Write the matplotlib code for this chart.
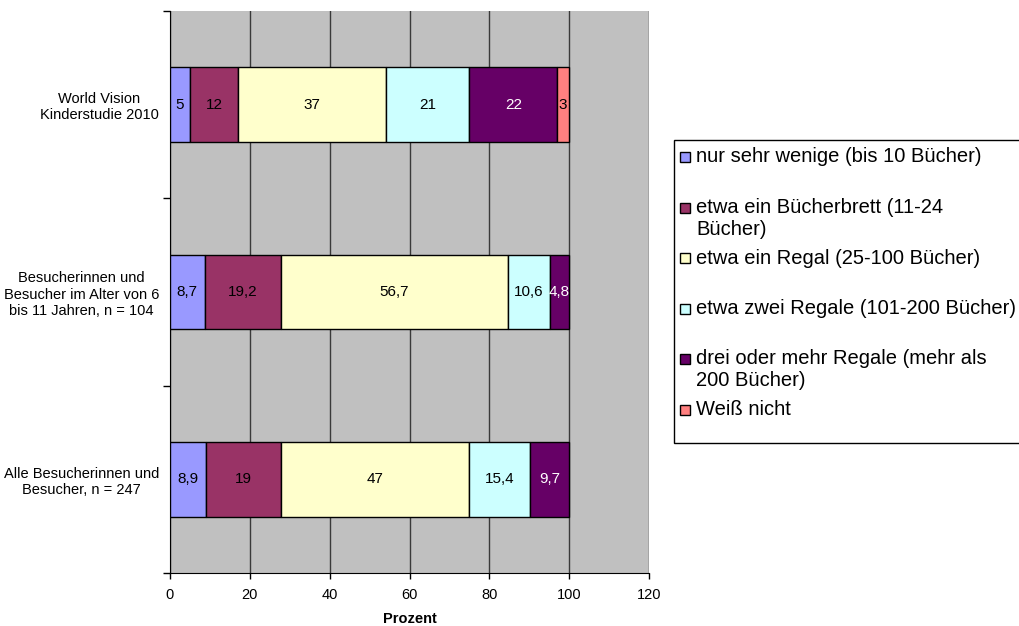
import matplotlib
matplotlib.use("Agg")
import matplotlib.pyplot as plt
from matplotlib.patches import Rectangle
from matplotlib.ticker import FixedLocator

plt.rcParams['font.family'] = ['Liberation Sans', 'DejaVu Sans']

# Groups, top to bottom
categories = [
    "World Vision\nKinderstudie 2010",
    "Besucherinnen und\nBesucher im Alter von 6\nbis 11 Jahren, n = 104",
    "Alle Besucherinnen und\nBesucher, n = 247",
]

series_labels = [
    "nur sehr wenige (bis 10 Bücher)",
    "etwa ein Bücherbrett (11-24\nBücher)",
    "etwa ein Regal (25-100 Bücher)",
    "etwa zwei Regale (101-200 Bücher)",
    "drei oder mehr Regale (mehr als\n200 Bücher)",
    "Weiß nicht",
]

bis_10 = [5, 8.7, 8.9]
buecherbrett = [12, 19.2, 19]
ein_regal = [37, 56.7, 47]
zwei_regale = [21, 10.6, 15.4]
drei_oder_mehr = [22, 4.8, 9.7]
weiss_nicht = [3, 0, 0]

series_values = [bis_10, buecherbrett, ein_regal, zwei_regale, drei_oder_mehr, weiss_nicht]
colors = ["#9999FF", "#993366", "#FFFFCC", "#CCFFFF", "#660066", "#FF8080"]
text_colors = ["black", "black", "black", "black", "white", "black"]

x_ticks = [0, 20, 40, 60, 80, 100, 120]

W, H = 1019, 626
fig = plt.figure(figsize=(W / 100, H / 100), dpi=100)


def fx(x):
    return x / W


def fy(y):
    return 1 - y / H


ax = fig.add_axes([fx(170), fy(573), fx(649) - fx(170), fy(11) - fy(573)])
ax.set_facecolor("#C0C0C0")

ypos = list(range(len(categories)))
left = [0.0] * len(categories)
for vals, col, tcol in zip(series_values, colors, text_colors):
    for i, v in enumerate(vals):
        if v <= 0:
            continue
        ax.barh(ypos[i], v, left=left[i], height=0.4, color=col,
                edgecolor="black", linewidth=1, zorder=3)
        ax.text(left[i] + v / 2, ypos[i], f"{v:g}".replace(".", ","),
                ha="center", va="center", fontsize=11, color=tcol, zorder=4)
        left[i] += v

ax.set_xlim(0, 120)
ax.set_ylim(len(categories) - 0.5, -0.5)
ax.set_xticks(x_ticks)
ax.set_xticklabels([str(t) for t in x_ticks], fontsize=10.5)
ax.tick_params(axis="x", length=4, pad=7, width=1, color="black")

ax.set_yticks(ypos)
ax.set_yticklabels(categories, fontsize=10.5)
for lab in ax.get_yticklabels():
    lab.set_multialignment("center")
ax.tick_params(axis="y", which="major", length=0, pad=8)
ax.yaxis.set_minor_locator(FixedLocator([-0.5 + k for k in range(len(categories) + 1)]))
ax.tick_params(axis="y", which="minor", length=5, width=1, color="black")

ax.xaxis.grid(True, color="#3a3a3a", linewidth=1)
ax.set_axisbelow(True)
for side in ("top", "right"):
    ax.spines[side].set_visible(False)
ax.spines["left"].set_color("black")
ax.spines["bottom"].set_color("black")

ax.set_xlabel("Prozent", fontsize=10.5, fontweight="bold", labelpad=7)

# Legend box drawn in figure coordinates; it runs past the right edge
fig.add_artist(Rectangle((fx(674), fy(443)), fx(1030) - fx(674), fy(140) - fy(443),
                         transform=fig.transFigure, facecolor="white",
                         edgecolor="black", linewidth=1))
entry_y0 = 157
entry_step = 50.5
line_step = 22
for k, (lab, col) in enumerate(zip(series_labels, colors)):
    yc = entry_y0 + k * entry_step
    fig.add_artist(Rectangle((fx(680), fy(yc + 5)), fx(690) - fx(680), fy(yc - 5) - fy(yc + 5),
                             transform=fig.transFigure, facecolor=col,
                             edgecolor="black", linewidth=1))
    for j, line in enumerate(lab.split("\n")):
        fig.text(fx(696), fy(yc + j * line_step), line, fontsize=14.5,
                 ha="left", va="center")

fig.savefig("out.png", dpi=100)
